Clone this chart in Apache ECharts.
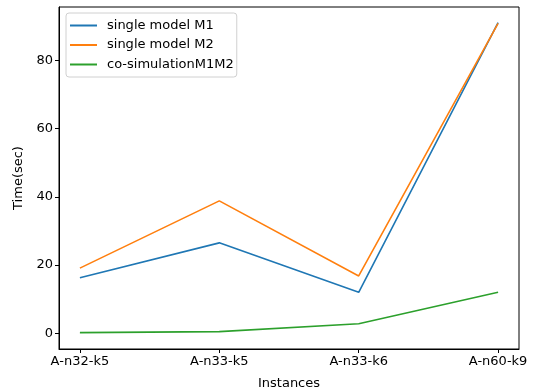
<!DOCTYPE html>
<html>
<head>
<meta charset="utf-8">
<script src="https://cdn.jsdelivr.net/npm/echarts@6/dist/echarts.min.js"></script>
<style>html,body{margin:0;padding:0;background:#fff}#c{width:550px;height:391px}</style>
</head>
<body>
<div id="c"></div>
<script>
var categories = ["A-n32-k5", "A-n33-k5", "A-n33-k6", "A-n60-k9"];
var m1 = [16.3, 26.5, 12.0, 91.0];
var m2 = [19.1, 38.8, 16.8, 90.8];
var cosim = [0.2, 0.5, 2.8, 12.0];
var yTicks = [0, 20, 40, 60, 80];
var seriesNames = ["single model M1", "single model M2", "co-simulationM1M2"];

function pts(arr){ return arr.map(function(v,i){ return [i, v]; }); }

var chart = echarts.init(document.getElementById('c'), null, {renderer:'canvas'});
var font = 'DejaVu Sans';
chart.setOption({
  animation: false,
  backgroundColor: '#fff',
  grid: { left: 59, right: 31, top: 7, bottom: 42, show: true, borderColor: '#000', borderWidth: 1, backgroundColor: 'transparent', containLabel: false, outerBoundsMode: 'none' },
  legend: {
    orient: 'vertical', left: 66, top: 13,
    data: seriesNames.map(function(n){ return {name: n, icon: 'rect'}; }),
    itemWidth: 27, itemHeight: 2, itemGap: 4.5,
    backgroundColor: 'rgba(255,255,255,0.8)', borderColor: '#d0d0d0', borderWidth: 1, borderRadius: 3,
    padding: [5, 3, 5, 4],
    textStyle: { fontFamily: font, fontSize: 13, color: '#000', lineHeight: 15, padding: [0, 0, 0, 5] }
  },
  xAxis: {
    type: 'value', min: -0.15, max: 3.15,
    name: 'Instances', nameLocation: 'middle', nameGap: 28,
    nameTextStyle: { fontFamily: font, fontSize: 13, color: '#000' },
    splitLine: { show: false },
    axisLine: { show: true, onZero: false, lineStyle: { color: '#000', width: 1 } },
    axisTick: { show: true, length: 4, customValues: [0,1,2,3], lineStyle: { color: '#000' } },
    axisLabel: { customValues: [0,1,2,3], fontFamily: font, fontSize: 13, color: '#000', margin: 6,
      formatter: function(v){ return categories[Math.round(v)] || ''; } }
  },
  yAxis: {
    type: 'value', min: -4.6, max: 95.6,
    name: 'Time(sec)', nameLocation: 'middle', nameGap: 30, nameRotate: 90,
    nameTextStyle: { fontFamily: font, fontSize: 13, color: '#000' },
    splitLine: { show: false },
    axisLine: { show: true, onZero: false, lineStyle: { color: '#000', width: 1 } },
    axisTick: { show: true, length: 4, customValues: yTicks, lineStyle: { color: '#000' } },
    axisLabel: { customValues: yTicks, fontFamily: font, fontSize: 13, color: '#000', margin: 6 }
  },
  series: [
    { name: seriesNames[0], type: 'line', data: pts(m1), showSymbol: false, symbol: 'none', lineStyle: { width: 1.6, color: '#1f77b4' }, itemStyle: { color: '#1f77b4' } },
    { name: seriesNames[1], type: 'line', data: pts(m2), showSymbol: false, symbol: 'none', lineStyle: { width: 1.6, color: '#ff7f0e' }, itemStyle: { color: '#ff7f0e' } },
    { name: seriesNames[2], type: 'line', data: pts(cosim), showSymbol: false, symbol: 'none', lineStyle: { width: 1.6, color: '#2ca02c' }, itemStyle: { color: '#2ca02c' } }
  ]
});
</script>
</body>
</html>
